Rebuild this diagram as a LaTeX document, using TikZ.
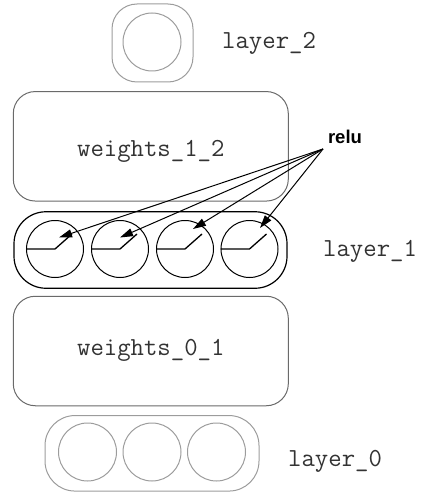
\documentclass[tikz,border=0pt]{standalone}
\usepackage{fontspec}
\setmainfont{Liberation Sans}
\usepackage{tikz}
\usetikzlibrary{arrows.meta}
\definecolor{lightgrey}{HTML}{9C9C9C}
\definecolor{midgrey}{HTML}{6A6A6A}
\definecolor{txtgrey}{HTML}{333333}

\begin{document}
\begin{tikzpicture}[x=1pt,y=-1pt,
		neuron/.style={draw, circle, minimum size=57pt, inner sep=0pt, line width=1pt},
		pill/.style={draw, rectangle, inner sep=0pt, line width=1pt},
		wbox/.style={draw=midgrey, rectangle, rounded corners=22pt, minimum width=275pt, minimum height=109.5pt, inner sep=0pt, line width=1pt},
		layertext/.style={font=\ttfamily\fontsize{26}{26}\selectfont, text=txtgrey, inner sep=0pt},
		relu arrow/.style={line width=1pt, -{Triangle[length=13pt,width=8pt]}}
		]
		\useasboundingbox (0,0) rectangle (421,492);
		
		\node[pill, draw=lightgrey, rounded corners=25pt, minimum width=81pt, minimum height=78pt] (l2box) at (152.5,43) {};
		\node[neuron, draw=lightgrey, minimum size=58pt] (l2n1) at (152,42) {};
		\node[layertext, anchor=west] (l2name) at (222,43) {layer\_2};
		
		\node[wbox] (w12) at (150.8,146.3) {};
		\node[layertext] (w12name) at (150.8,151) {weights\_1\_2};
		
		\node[pill, draw=black, line width=1.2pt, rounded corners=32pt, minimum width=273pt, minimum height=76.5pt] (l1box) at (150.5,250) {};
		\foreach \i/\x in {1/55, 2/120, 3/185, 4/249.5}
			\node[neuron] (l1n\i) at (\x,249) {};
		\node[layertext, anchor=west] (l1name) at (323,251) {layer\_1};
		
		\node[wbox] (w01) at (150.8,351) {};
		\node[layertext] (w01name) at (150.8,350) {weights\_0\_1};
		
		\node[pill, draw=lightgrey, rounded corners=30pt, minimum width=214pt, minimum height=75.5pt] (l0box) at (152,453.3) {};
		\foreach \i/\x in {1/87.5, 2/152, 3/216.5}
			\node[neuron, draw=lightgrey, minimum size=58pt] (l0n\i) at (\x,452) {};
		\node[layertext, anchor=west] (l0name) at (288,461) {layer\_0};
		
		\foreach \i in {1,...,4}
			\draw[line width=1.3pt] (l1n\i.west) -- ++(29,0) -- ++(17,-15);
		
		\node[font=\bfseries\fontsize{18.5}{18.5}\selectfont, inner sep=0pt] (relu) at (345,137) {relu};
		\coordinate (fork) at (323,149);
		\foreach \i/\dx/\dy in {1/4/-11.5, 2/0/-11.5, 3/8/-20, 4/10.5/-21}
			\draw[relu arrow] (fork) -- ([shift={(\dx,\dy)}]l1n\i.center);
	\end{tikzpicture}
\end{document}
